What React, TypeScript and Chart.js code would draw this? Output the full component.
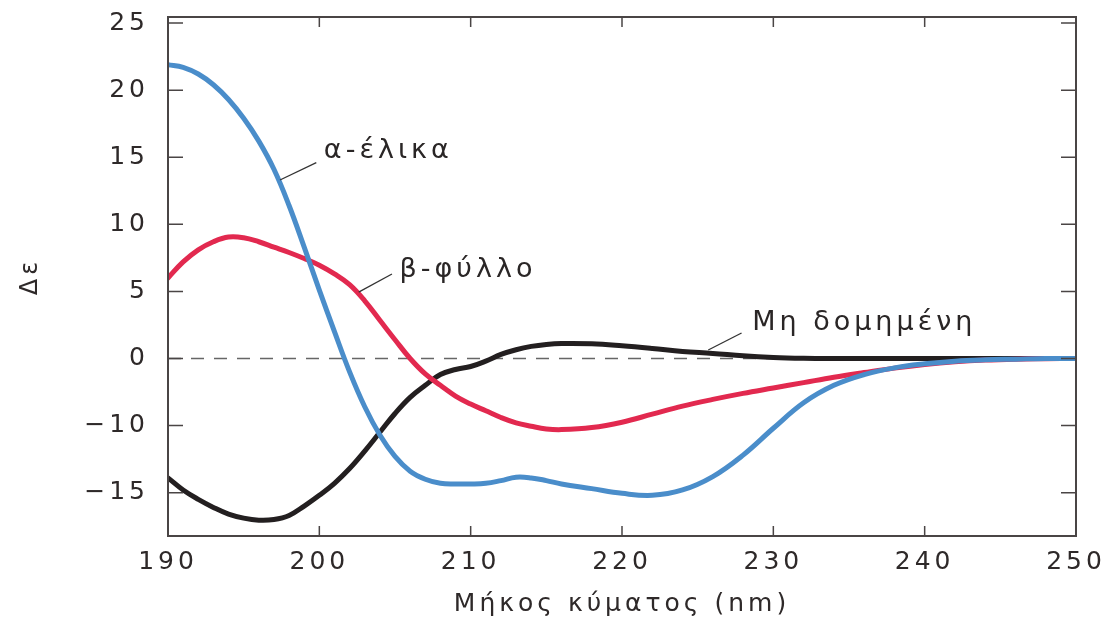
import React, { useEffect, useRef } from "react";
import { Chart, registerables } from "chart.js";

Chart.register(...registerables);

// ---- data ----
const wavelengths = [
  190, 191, 192, 193, 194, 195, 196, 197, 198, 199, 200, 201, 202, 203, 204, 205, 206, 207, 208, 209, 210, 211, 212, 213, 214, 215, 216,
  218, 220, 222, 224, 226, 228, 230, 232, 234, 236, 238, 240, 242, 244, 246, 248, 250,
];

const alphaHelix = [
  21.9, 21.7, 21.2, 20.4, 19.3, 17.9, 16.2, 14.1, 11.4, 8.3, 5.1, 2.0, -1.0, -3.6, -5.7, -7.3, -8.4, -9.0, -9.3, -9.35, -9.35, -9.3, -9.1, -8.85, -8.9, -9.1, -9.35,
  -9.7, -10.05, -10.2, -9.8, -8.8, -7.2, -5.2, -3.3, -2.0, -1.2, -0.7, -0.4, -0.2, -0.1, -0.05, 0, 0,
];

const betaSheet = [
  6.0, 7.2, 8.1, 8.7, 9.05, 9.0, 8.7, 8.3, 7.9, 7.45, 6.95, 6.3, 5.5, 4.3, 2.85, 1.4, 0, -1.15, -2.0, -2.8, -3.4, -3.9, -4.4, -4.8, -5.05, -5.25, -5.3,
  -5.15, -4.75, -4.15, -3.55, -3.05, -2.6, -2.2, -1.8, -1.4, -1.05, -0.72, -0.45, -0.25, -0.12, -0.05, -0.02, 0,
];

const unstructured = [
  -8.9, -9.8, -10.5, -11.1, -11.6, -11.9, -12.05, -12.0, -11.7, -11.0, -10.2, -9.3, -8.2, -6.9, -5.5, -4.1, -2.9, -2.0, -1.2, -0.82, -0.6, -0.2, 0.3, 0.65, 0.9, 1.05, 1.12,
  1.1, 0.95, 0.75, 0.52, 0.38, 0.2, 0.08, 0.02, 0, 0, 0, 0, 0, 0, 0, 0,
];

const seriesNames = ["α-έλικα", "β-φύλλο", "Μη δομημένη"];

const xTickValues = [190, 200, 210, 220, 230, 240, 250];
const yTickValues = [25, 20, 15, 10, 5, 0, -5, -10];
const yTickLabels = ["25", "20", "15", "10", "5", "0", "\u221210", "\u221215"];

const xTitle = "Μήκος κύματος (nm)";
const yTitle = "Δε";

// ---- styling / layout (not data) ----
const COLORS = ["#4a8dca", "#e2294f", "#231f20"];
const TEXT = "#2e2929";
const FRAME = "#4a4545";
const FONT = "'DejaVu Sans', sans-serif";

// label anchor positions, in data units: [lineStartX, lineStartY, lineEndX, lineEndY, textX, textY]
const labelPlacement = [
  [197.4, 13.3, 199.8, 14.6, 200.3, 15.5],
  [202.6, 4.95, 204.8, 6.3, 205.3, 6.6],
  [225.7, 0.63, 227.9, 1.9, 228.6, 2.65],
];

const framePlugin = {
  id: "framePlugin",
  beforeDraw(chart: any) {
    const ctx = chart.ctx;
    try {
      (ctx as any).letterSpacing = "4px";
    } catch (e) {}
  },
  beforeDatasetsDraw(chart: any) {
    const { ctx, chartArea: a, scales } = chart;
    const y0 = scales.y.getPixelForValue(0);
    ctx.save();
    ctx.strokeStyle = "#666";
    ctx.lineWidth = 1.3;
    ctx.setLineDash([13, 10]);
    ctx.beginPath();
    ctx.moveTo(a.left, y0);
    ctx.lineTo(a.right, y0);
    ctx.stroke();
    ctx.restore();
  },
  afterDatasetsDraw(chart: any) {
    const { ctx, chartArea: a, scales } = chart;
    ctx.save();
    ctx.strokeStyle = FRAME;
    ctx.lineWidth = 2;
    ctx.setLineDash([]);
    ctx.strokeRect(a.left, a.top, a.right - a.left, a.bottom - a.top);
    ctx.lineWidth = 1.5;
    ctx.beginPath();
    yTickValues.forEach((v) => {
      const py = scales.y.getPixelForValue(v);
      ctx.moveTo(a.left, py);
      ctx.lineTo(a.left + 15, py);
      ctx.moveTo(a.right, py);
      ctx.lineTo(a.right - 15, py);
    });
    xTickValues.forEach((v) => {
      const px = scales.x.getPixelForValue(v);
      ctx.moveTo(px, a.bottom);
      ctx.lineTo(px, a.bottom - 10);
      ctx.moveTo(px, a.top);
      ctx.lineTo(px, a.top + 10);
    });
    ctx.stroke();

    // annotations
    ctx.strokeStyle = "#333";
    ctx.lineWidth = 1.3;
    ctx.fillStyle = "#2a2626";
    ctx.font = "27px " + FONT;
    ctx.textAlign = "left";
    ctx.textBaseline = "middle";
    labelPlacement.forEach((p, i) => {
      const x1 = scales.x.getPixelForValue(p[0]);
      const y1 = scales.y.getPixelForValue(p[1]);
      const x2 = scales.x.getPixelForValue(p[2]);
      const y2 = scales.y.getPixelForValue(p[3]);
      ctx.beginPath();
      ctx.moveTo(x1, y1);
      ctx.lineTo(x2, y2);
      ctx.stroke();
      ctx.fillText(seriesNames[i], scales.x.getPixelForValue(p[4]), scales.y.getPixelForValue(p[5]));
    });
    ctx.restore();
  },
};

export default function App() {
  const canvasRef = useRef<HTMLCanvasElement | null>(null);

  useEffect(() => {
    if (!canvasRef.current) return;
    const series = [alphaHelix, betaSheet, unstructured];
    const chart = new Chart(canvasRef.current, {
      type: "line",
      data: {
        datasets: series.map((vals, i) => ({
          label: seriesNames[i],
          data: wavelengths.map((w, j) => ({ x: w, y: vals[j] })),
          borderColor: COLORS[i],
          borderWidth: 5,
          pointRadius: 0,
          fill: false,
          tension: 0.4,
          borderCapStyle: "round" as const,
        })),
      },
      options: {
        animation: false,
        responsive: true,
        maintainAspectRatio: false,
        layout: { padding: { left: 0, right: 34, top: 17, bottom: 0 } },
        plugins: {
          legend: { display: false },
          tooltip: { enabled: false },
        },
        scales: {
          x: {
            type: "linear",
            min: 190,
            max: 250,
            grid: { display: false, drawTicks: false },
            border: { display: false },
            afterBuildTicks: (scale: any) => {
              scale.ticks = xTickValues.map((v) => ({ value: v }));
            },
            afterFit: (scale: any) => {
              scale.height = 87;
              scale.paddingLeft = 0;
              scale.paddingRight = 0;
            },
            ticks: {
              color: TEXT,
              font: { family: FONT, size: 25 },
              padding: 11,
              maxRotation: 0,
              autoSkip: false,
              callback: (v: any) => String(v),
            },
            title: {
              display: true,
              text: xTitle,
              color: TEXT,
              font: { family: FONT, size: 25 },
              padding: { top: 0, bottom: 4 },
            },
          },
          y: {
            type: "linear",
            min: -13.23,
            max: 25.45,
            grid: { display: false, drawTicks: false },
            border: { display: false },
            afterBuildTicks: (scale: any) => {
              scale.ticks = yTickValues.map((v) => ({ value: v }));
            },
            afterFit: (scale: any) => {
              scale.width = 168;
              scale.paddingTop = 0;
              scale.paddingBottom = 0;
            },
            ticks: {
              color: TEXT,
              font: { family: FONT, size: 25 },
              padding: 19,
              autoSkip: false,
              callback: (v: any) => {
                const idx = yTickValues.indexOf(Number(v));
                return idx >= 0 ? yTickLabels[idx] : "";
              },
            },
            title: {
              display: true,
              text: yTitle,
              color: TEXT,
              font: { family: FONT, size: 24 },
              padding: { top: 16, bottom: 0 },
            },
          },
        },
      },
      plugins: [framePlugin],
    });
    return () => chart.destroy();
  }, []);

  return (
    <div style={{ position: "absolute", left: 0, top: 0, width: 1110, height: 623, background: "#fff" }}>
      <canvas ref={canvasRef} />
    </div>
  );
}
